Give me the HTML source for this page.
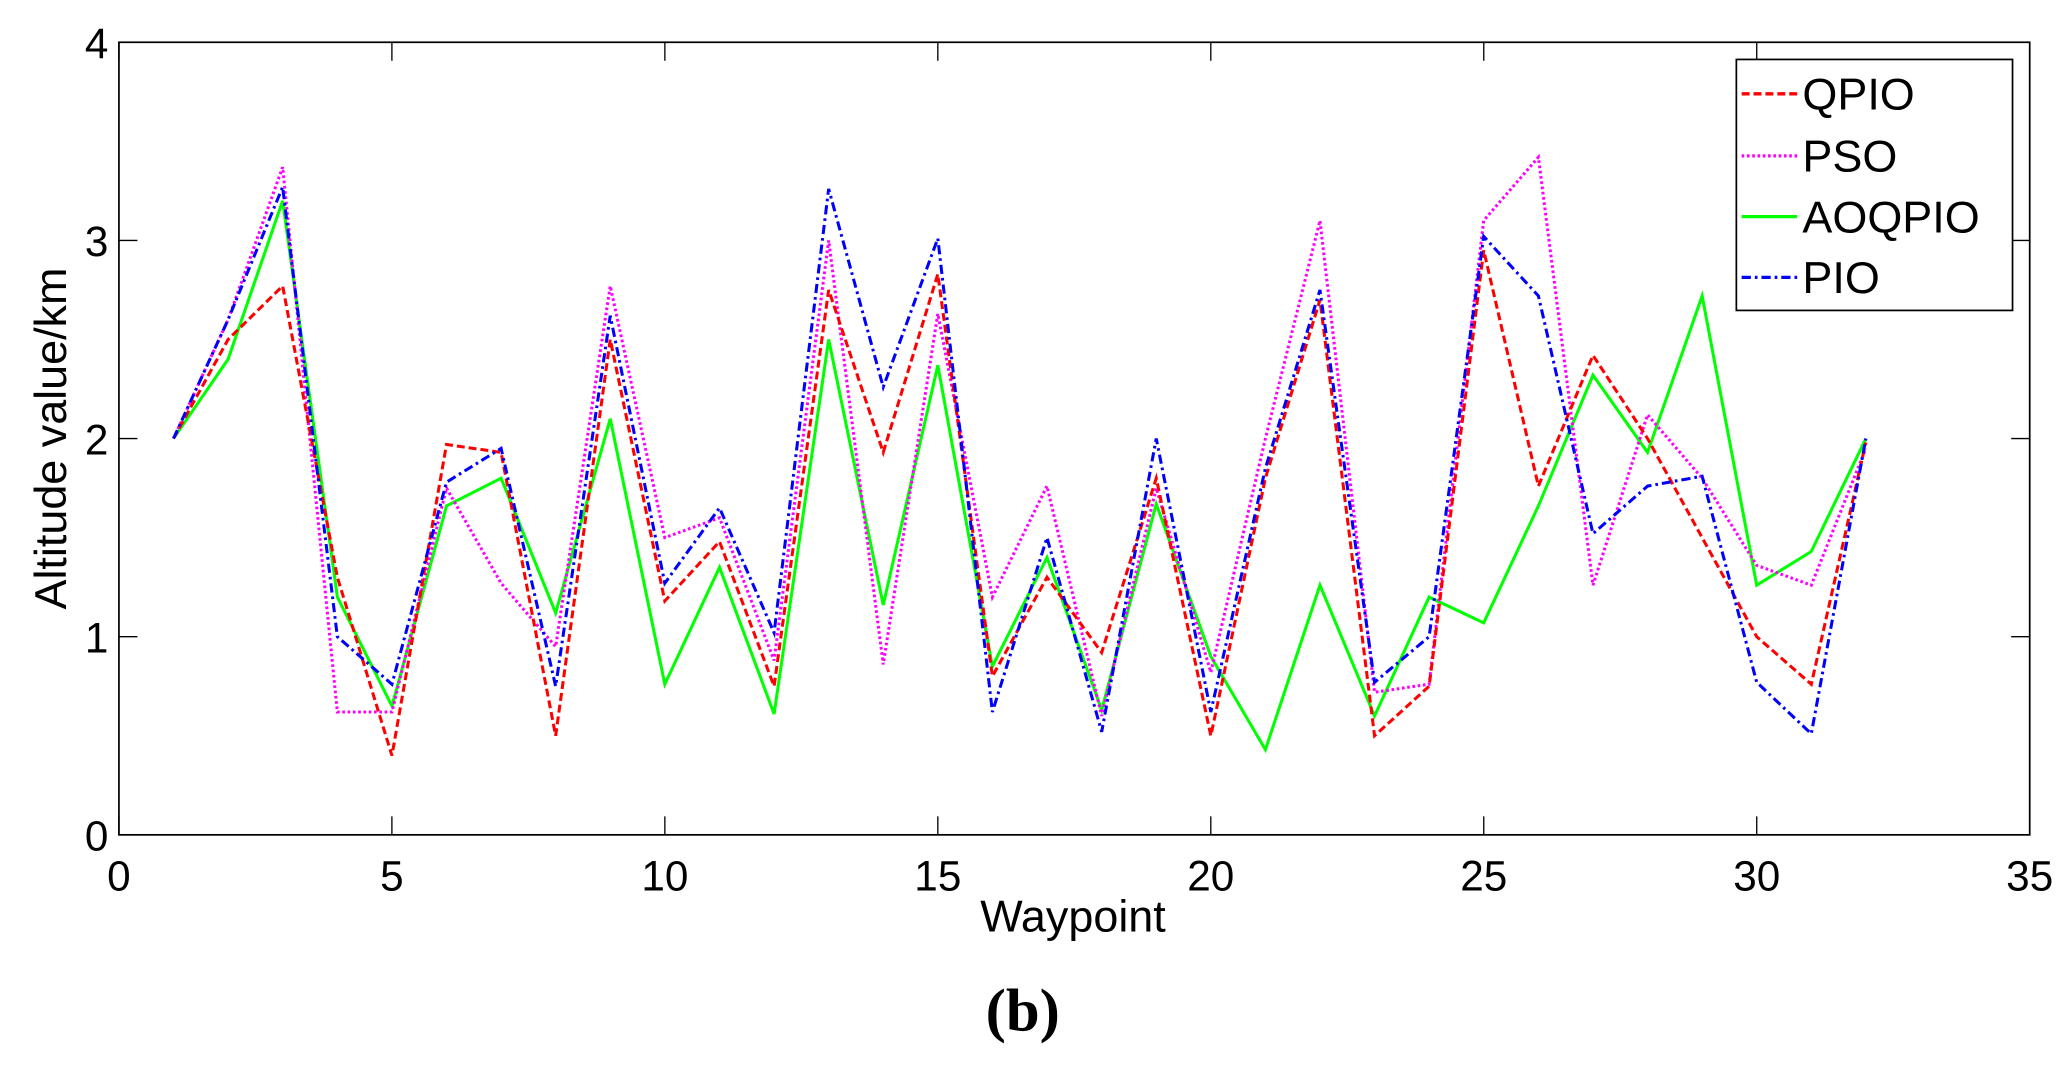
<!DOCTYPE html>
<html><head><meta charset="utf-8"><style>html,body{margin:0;padding:0;background:#fff}svg{display:block}</style></head>
<body>
<svg id="s" width="2072" height="1066" viewBox="0 0 1568 807" preserveAspectRatio="none" xmlns="http://www.w3.org/2000/svg" font-family="Liberation Sans, Arial, sans-serif">
<rect width="1568" height="807" fill="#fff"/>
<g id="plot"></g>
<rect x="90" y="32" width="1446" height="600" fill="none" stroke="#000" stroke-width="1.3"/>
<g id="ticks" stroke="#000" stroke-width="1"></g>
<g font-size="32" fill="#000" text-anchor="middle" id="xl"></g>
<g font-size="32" fill="#000" text-anchor="end" id="yl"></g>
<text x="812" y="705" font-size="34" text-anchor="middle">Waypoint</text>
<text transform="translate(50,332) rotate(-90)" font-size="34" text-anchor="middle">Altitude value/km</text>
<text x="774" y="780" font-size="46" font-weight="bold" font-family="Liberation Serif, serif" text-anchor="middle">(b)</text>
<g>
<rect x="1314" y="45" width="209" height="190" fill="#fff" stroke="#000" stroke-width="1.3"/>
<line x1="1318" y1="71" x2="1360" y2="71" stroke="#f00" stroke-width="2.5" stroke-dasharray="6,3"/>
<line x1="1318" y1="118" x2="1360" y2="118" stroke="#f0f" stroke-width="2.5" stroke-dasharray="2,2"/>
<line x1="1318" y1="164" x2="1360" y2="164" stroke="#0f0" stroke-width="2.5"/>
<line x1="1318" y1="210" x2="1360" y2="210" stroke="#00f" stroke-width="2.5" stroke-dasharray="7,3,2,3"/>
<g font-size="34" fill="#000">
<text x="1364" y="83">QPIO</text>
<text x="1364" y="130">PSO</text>
<text x="1364" y="176">AOQPIO</text>
<text x="1364" y="222">PIO</text>
</g>
</g>
</svg>
<script>
var X=function(v){return 90+v*41.314},Y=function(v){return 632-v*150};
var D={
q:[2,2.5,2.77,1.3,0.4,1.97,1.93,0.5,2.5,1.18,1.48,0.75,2.75,1.93,2.83,0.8,1.3,0.92,1.8,0.5,1.8,2.7,0.5,0.75,2.95,1.76,2.42,2.0,1.5,1.0,0.76,1.98],
p:[2,2.6,3.37,0.62,0.62,1.75,1.27,0.95,2.77,1.5,1.6,0.88,3.0,0.86,2.63,1.2,1.76,0.6,1.75,0.82,2.0,3.1,0.72,0.76,3.1,3.42,1.26,2.12,1.8,1.36,1.26,1.95],
a:[2,2.4,3.2,1.2,0.65,1.66,1.8,1.12,2.1,0.76,1.35,0.61,2.5,1.16,2.37,0.85,1.4,0.63,1.67,0.9,0.43,1.26,0.6,1.2,1.07,1.66,2.32,1.93,2.72,1.26,1.43,2.0],
b:[2,2.6,3.27,1.0,0.76,1.78,1.95,0.75,2.62,1.27,1.65,1.02,3.26,2.26,3.01,0.62,1.5,0.52,2.0,0.62,1.85,2.75,0.77,1.0,3.02,2.72,1.52,1.76,1.81,0.77,0.51,2.0]};
var S={a:["#0f0",""],p:["#f0f","2,2"],q:["#f00","6,3"],b:["#00f","7,3,2,3"]};
var NS="http://www.w3.org/2000/svg",g=document.getElementById("plot");
["a","p","q","b"].forEach(function(k){var pl=document.createElementNS(NS,"polyline");
pl.setAttribute("points",D[k].map(function(v,i){return X(i+1).toFixed(1)+","+Y(v).toFixed(1)}).join(" "));
pl.setAttribute("fill","none");pl.setAttribute("stroke",S[k][0]);pl.setAttribute("stroke-width","2.3");
if(S[k][1])pl.setAttribute("stroke-dasharray",S[k][1]);g.appendChild(pl);});
var t=document.getElementById("ticks"),xl=document.getElementById("xl"),yl=document.getElementById("yl");
function L(a,b,c,d){var l=document.createElementNS(NS,"line");l.setAttribute("x1",a);l.setAttribute("y1",b);l.setAttribute("x2",c);l.setAttribute("y2",d);t.appendChild(l);}
function T(p,x,y,s){var e=document.createElementNS(NS,"text");e.setAttribute("x",x);e.setAttribute("y",y);e.textContent=s;p.appendChild(e);}
for(var v=0;v<=35;v+=5){var x=X(v);L(x,632,x,618);L(x,32,x,46);T(xl,x,674,v);}
for(var v=0;v<=4;v++){var y=Y(v);L(90,y,104,y);L(1536,y,1522,y);T(yl,82,y+12,v);}
</script>
</body></html>
